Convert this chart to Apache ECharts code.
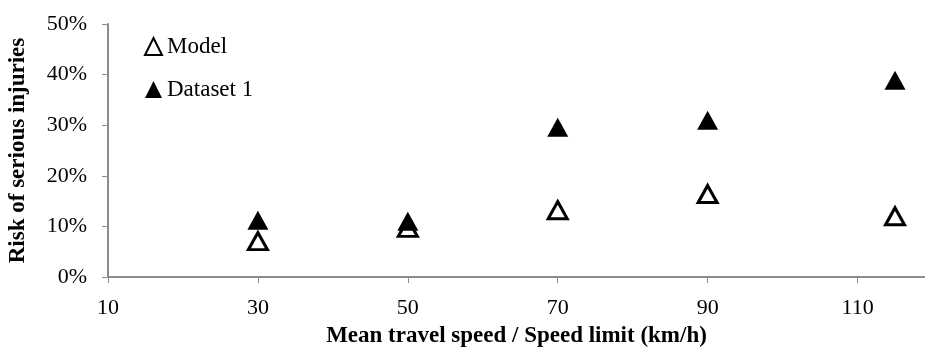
<!DOCTYPE html>
<html>
<head>
<meta charset="utf-8">
<script src="https://cdn.jsdelivr.net/npm/echarts@6/dist/echarts.min.js"></script>
<style>
  html, body { margin: 0; padding: 0; background: #fff; }
  #chart { width: 925px; height: 348px; }
</style>
</head>
<body>
<div id="chart"></div>
<script>
// speeds (km/h) and risk values
const speeds = [30, 50, 70, 90, 115];
const modelRisk = [0.071, 0.097, 0.132, 0.164, 0.120];
const dataset1Risk = [0.112, 0.110, 0.296, 0.310, 0.389];
const xTicks = [10, 30, 50, 70, 90, 110];
const yTicks = [0, 0.1, 0.2, 0.3, 0.4, 0.5];

const font = '"Liberation Serif", "DejaVu Serif", serif';
const axisGrey = '#8c8c8c';

const toPairs = (xs, ys) => xs.map((x, i) => [x, ys[i]]);

const chart = echarts.init(document.getElementById('chart'));
chart.setOption({
  animation: false,
  textStyle: { fontFamily: font },
  grid: { left: 108, right: 0, top: 24, bottom: 71, containLabel: false, outerBoundsMode: 'none' },
  legend: {
    orient: 'vertical',
    left: 139,
    top: 30,
    padding: 5,
    itemGap: 20,
    itemWidth: 17,
    itemHeight: 17,
    textStyle: { fontFamily: font, fontSize: 23, color: '#000' },
    data: ['Model', 'Dataset 1']
  },
  xAxis: {
    type: 'value',
    min: 10,
    max: 119,
    interval: 20,
    name: 'Mean travel speed / Speed limit (km/h)',
    nameLocation: 'middle',
    nameGap: 48,
    nameTextStyle: { fontFamily: font, fontSize: 23, fontWeight: 'bold', color: '#000' },
    axisLine: { show: true, lineStyle: { color: axisGrey, width: 2 } },
    axisTick: { show: true, customValues: xTicks, length: 6, lineStyle: { color: axisGrey, width: 1 } },
    axisLabel: { customValues: xTicks, margin: 20, fontFamily: font, fontSize: 22, color: '#000' },
    splitLine: { show: false }
  },
  yAxis: {
    type: 'value',
    min: 0,
    max: 0.5,
    interval: 0.1,
    name: 'Risk of serious injuries',
    nameLocation: 'middle',
    nameGap: 78,
    nameTextStyle: { fontFamily: font, fontSize: 23, fontWeight: 'bold', color: '#000' },
    axisLine: { show: true, lineStyle: { color: axisGrey, width: 2 } },
    axisTick: { show: true, customValues: yTicks, length: 6, lineStyle: { color: axisGrey, width: 1 } },
    axisLabel: {
      customValues: yTicks,
      margin: 21,
      fontFamily: font,
      fontSize: 22,
      color: '#000',
      formatter: v => Math.round(v * 100) + '%'
    },
    splitLine: { show: false }
  },
  series: [
    {
      name: 'Model',
      type: 'scatter',
      symbol: 'triangle',
      symbolSize: [19, 17],
      itemStyle: { color: '#fff', borderColor: '#000', borderWidth: 3, opacity: 1 },
      data: toPairs(speeds, modelRisk)
    },
    {
      name: 'Dataset 1',
      type: 'scatter',
      symbol: 'triangle',
      symbolSize: [21, 19],
      itemStyle: { color: '#000', opacity: 1 },
      data: toPairs(speeds, dataset1Risk)
    }
  ]
});
</script>
</body>
</html>
